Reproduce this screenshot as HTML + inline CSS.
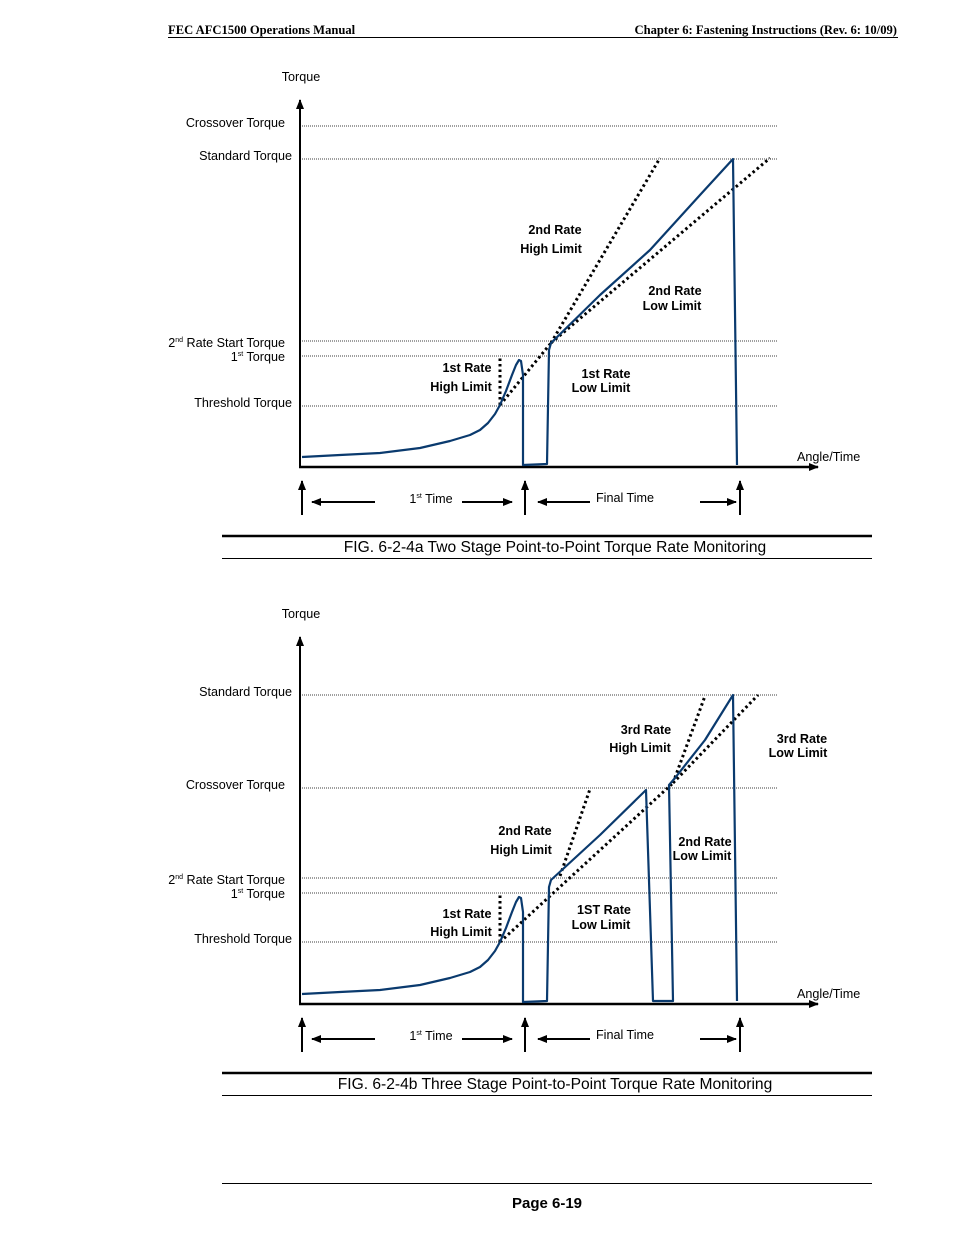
<!DOCTYPE html>
<html><head><meta charset="utf-8"><style>
html,body{margin:0;padding:0;background:#fff;}
svg{display:block;}
text{font-family:"Liberation Sans",sans-serif;font-size:12.6px;fill:#000;}
.b{font-weight:bold;}
.serif{font-family:"Liberation Serif",serif;font-weight:bold;font-size:12.6px;}
</style></head><body>
<svg id="page" width="954" height="1235" viewBox="0 0 954 1235" xmlns="http://www.w3.org/2000/svg">
<defs><marker id="ah" markerWidth="10" markerHeight="8" refX="9" refY="4" orient="auto" markerUnits="userSpaceOnUse"><path d="M0,0 L10,4 L0,8 Z" fill="#000"/></marker></defs>
<text class="serif" x="168" y="34">FEC AFC1500 Operations Manual</text>
<text class="serif" x="897" y="34" text-anchor="end">Chapter 6:  Fastening Instructions (Rev. 6: 10/09)</text>
<line x1="168" y1="37.5" x2="898" y2="37.5" stroke="#000" stroke-width="1"/>
<g id="figA"></g>
<g id="figB"></g>
<line x1="222" y1="1183.5" x2="872" y2="1183.5" stroke="#000" stroke-width="1"/>
<text class="b" x="547" y="1208" text-anchor="middle" style="font-size:15px">Page 6-19</text>
</svg>
<script>
// Data in chart units: angle = px right of origin, torque = px above origin
const levelsA = [["Crossover Torque",341],["Standard Torque",308],["2nd Rate Start Torque",126],["1st Torque",111],["Threshold Torque",61]];
const curveA = [[2,10],[40,12],[80,14],[120,19],[150,26],[170,32],[180,37],[188,44],[195,53],[200,62],[206,76],[212,92],[216,102],[219,107],[221,106],[223,92],[223,2],[247,3],[249,117],[251,124],[300,172],[350,217],[400,272],[433,308],[437,2]];
const limitsA = [
 ["1st-rate-high-limit",[[200,62],[200,110]]],
 ["1st-rate-low-limit",[[200,62],[251,124]]],
 ["2nd-rate-high-limit",[[251,124],[360,309]]],
 ["2nd-rate-low-limit",[[251,124],[470,309]]]];
const labelsA = [["2nd Rate",555,234],["High Limit",551,253],["2nd Rate",675,295],["Low Limit",672,310],["1st Rate",467,372],["High Limit",461,391],["1st Rate",606,378],["Low Limit",601,392]];

const levelsB = [["Standard Torque",309],["Crossover Torque",216],["2nd Rate Start Torque",126],["1st Torque",111],["Threshold Torque",62]];
const curveB = [[2,10],[40,12],[80,14],[120,19],[150,26],[170,32],[180,37],[188,44],[195,53],[200,62],[206,76],[212,92],[216,102],[219,107],[221,106],[223,92],[223,2],[247,3],[249,117],[251,124],[300,169],[346,214],[353,3],[373,3],[369,219],[375,226],[405,264],[433,309],[437,3]];
const limitsB = [
 ["1st-rate-high-limit",[[200,62],[200,109]]],
 ["1st-rate-low-limit",[[200,62],[373,221]]],
 ["2nd-rate-high-limit",[[260,128],[290,215]]],
 ["3rd-rate-high-limit",[[373,221],[405,308]]],
 ["3rd-rate-low-limit",[[373,221],[458,309]]]];
const labelsB = [["3rd Rate",646,734],["High Limit",640,752],["3rd Rate",802,743],["Low Limit",798,757],["2nd Rate",525,835],["High Limit",521,854],["2nd Rate",705,846],["Low Limit",702,860],["1st Rate",467,918],["High Limit",461,936],["1ST Rate",604,914],["Low Limit",601,929]];

const NS="http://www.w3.org/2000/svg";
function mk(parent,tag,attrs,txt){const e=document.createElementNS(NS,tag);for(const k in attrs)e.setAttribute(k,attrs[k]);if(txt!==undefined)e.textContent=txt;parent.appendChild(e);return e;}

function draw(g,oy,levels,curve,limits,labels,caption){
  const ox=300;
  const X=a=>ox+a, Y=t=>oy-t;
  let e=mk(g,'line',{x1:X(0),y1:Y(0),x2:X(0),y2:oy-367,stroke:'#000','stroke-width':2,'marker-end':'url(#ah)'});
  
  
  e=mk(g,'line',{x1:X(0)-1,y1:Y(0),x2:818,y2:Y(0),stroke:'#000','stroke-width':2.5,'marker-end':'url(#ah)'});
  
  
  e=mk(g,'text',{x:301,y:oy-386,'text-anchor':'middle'},'Torque');
  
  
  e=mk(g,'text',{x:797,y:oy-6},'Angle/Time');
  
  
  levels.forEach(([name,t])=>{
    const y=Y(t);
    const l=mk(g,'line',{x1:X(2),y1:y,x2:778,y2:y,stroke:'#000','stroke-width':0.8,'stroke-dasharray':'1,1'});
    
    
    let tx;
    const right=(name.indexOf('Rate Start')>=0||name==='1st Torque'||name==='Crossover Torque')?285:292;
    if(name==='2nd Rate Start Torque'){tx=mk(g,'text',{x:right,y:y+6,'text-anchor':'end'});tx.innerHTML='2<tspan dy="-5" style="font-size:7px">nd</tspan><tspan dy="5"> Rate Start Torque</tspan>';}
    else if(name==='1st Torque'){tx=mk(g,'text',{x:right,y:y+5,'text-anchor':'end'});tx.innerHTML='1<tspan dy="-5" style="font-size:7px">st</tspan><tspan dy="5"> Torque</tspan>';}
    else tx=mk(g,'text',{x:right,y:y+1,'text-anchor':'end'},name);
    
    
  });
  limits.forEach(([name,pts])=>{
    const l=mk(g,'line',{x1:X(pts[0][0]),y1:Y(pts[0][1]),x2:X(pts[1][0]),y2:Y(pts[1][1]),stroke:'#000','stroke-width':3,'stroke-dasharray':'2.5,3'});
    
    
  });
  const p=mk(g,'polyline',{points:curve.map(([a,t])=>X(a)+','+Y(t)).join(' '),fill:'none',stroke:'#0a3a6e','stroke-width':2.2,'stroke-linejoin':'round'});
  
  
  labels.forEach(([s,x,y])=>{const t=mk(g,'text',{x:x,y:y,'text-anchor':'middle',class:'b'},s);
    
    });
  [302,525,740].forEach(x=>{const l=mk(g,'line',{x1:x,y1:oy+48,x2:x,y2:oy+14,stroke:'#000','stroke-width':2,'marker-end':'url(#ah)'});
    
    });
  const ay=oy+35;
  [[375,312],[462,512],[590,538],[700,736]].forEach(([a,b])=>{const l=mk(g,'line',{x1:a,y1:ay,x2:b,y2:ay,stroke:'#000','stroke-width':2,'marker-end':'url(#ah)'});
    
    });
  let t=mk(g,'text',{x:431,y:ay+1,'text-anchor':'middle'});t.innerHTML='1<tspan dy="-5" style="font-size:7px">st</tspan><tspan dy="5"> Time</tspan>';
  
  
  t=mk(g,'text',{x:625,y:ay},'Final Time');
  t.setAttribute('text-anchor','middle');
  
  
  mk(g,'line',{x1:222,y1:oy+69,x2:872,y2:oy+69,stroke:'#000','stroke-width':2.5});
  mk(g,'line',{x1:222,y1:oy+91.5,x2:872,y2:oy+91.5,stroke:'#000','stroke-width':1});
  t=mk(g,'text',{x:555,y:oy+85,'text-anchor':'middle',style:'font-size:15.6px'},caption);
  
  
}
draw(document.getElementById('figA'),467,levelsA,curveA,limitsA,labelsA,'FIG. 6-2-4a Two Stage Point-to-Point Torque Rate Monitoring');
draw(document.getElementById('figB'),1004,levelsB,curveB,limitsB,labelsB,'FIG. 6-2-4b Three Stage Point-to-Point Torque Rate Monitoring');
</script>
</body></html>
